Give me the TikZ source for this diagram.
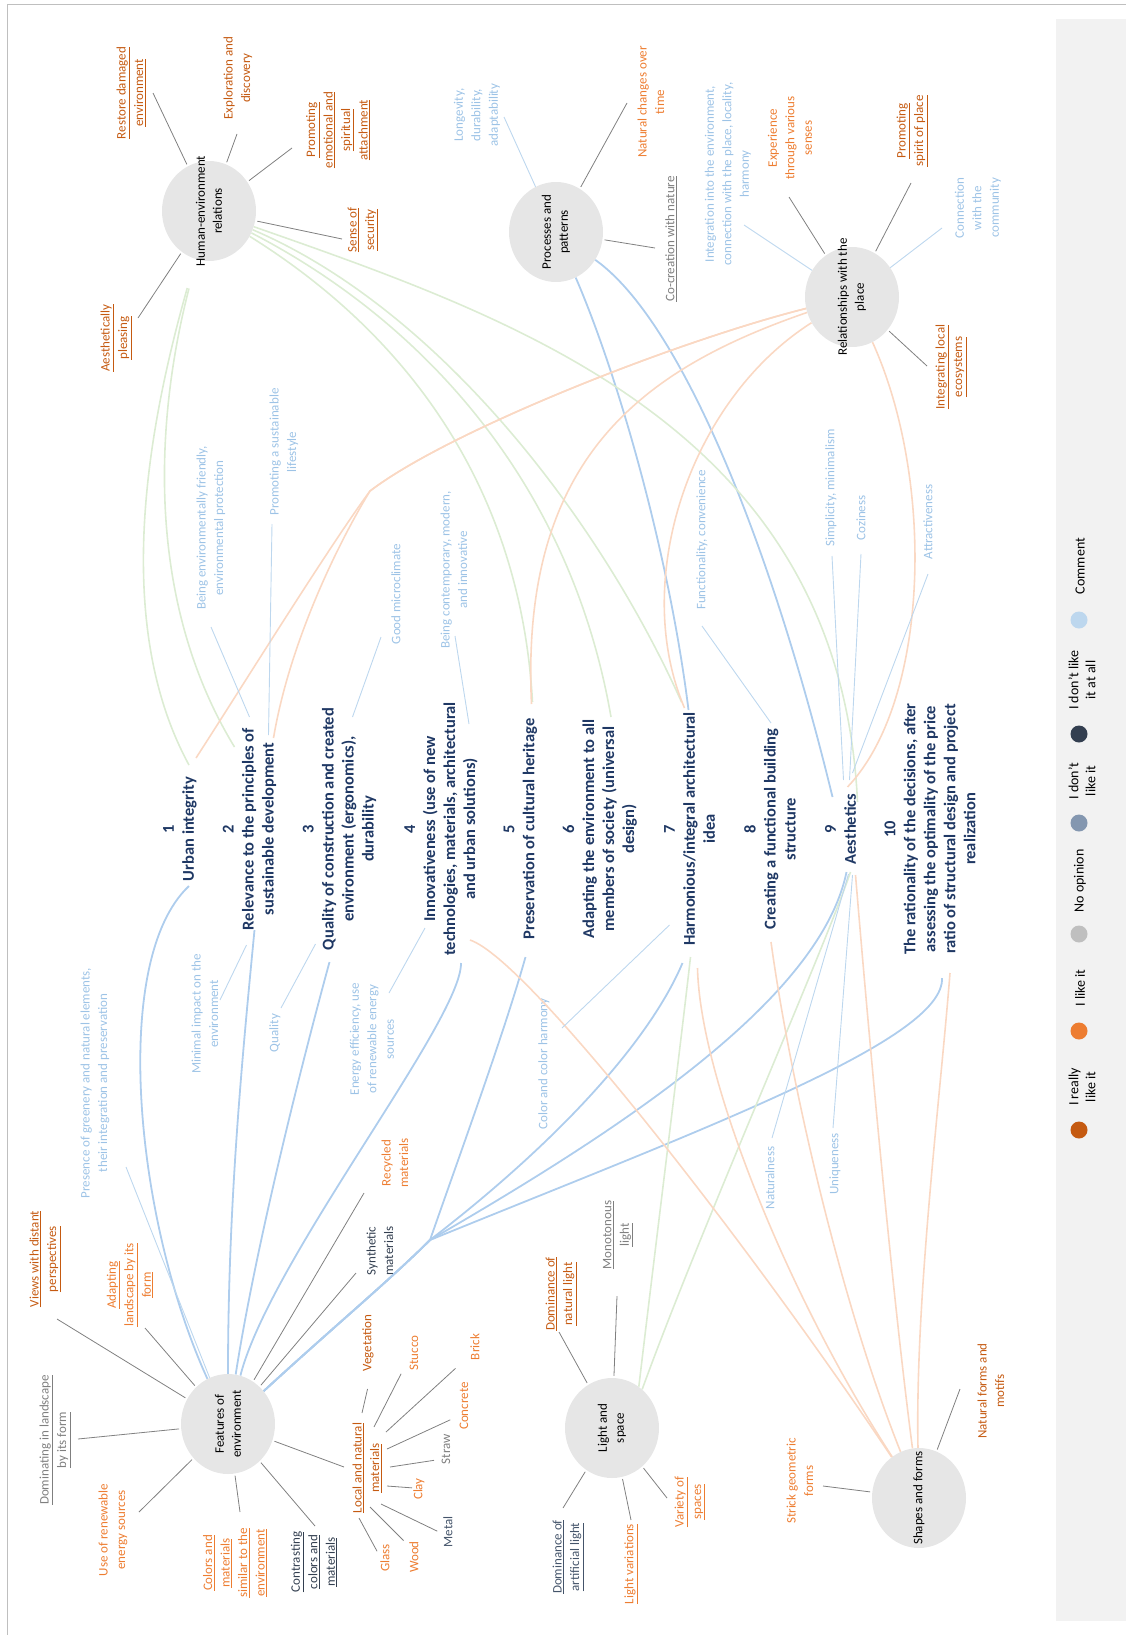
\documentclass[tikz,border=0pt]{standalone}
\usepackage{fontspec}
\setmainfont{Carlito}
\usetikzlibrary{calc,shapes.geometric}
\definecolor{dkorange}{HTML}{C55A11}
\definecolor{orng}{HTML}{ED7D31}
\definecolor{gtxt}{HTML}{7F7F7F}
\definecolor{navytxt}{HTML}{333F50}
\definecolor{slatetxt}{HTML}{44546A}
\definecolor{cmt}{HTML}{9DC3E6}
\definecolor{cmtline}{HTML}{BDD7EE}
\definecolor{critblue}{HTML}{1F3864}
\definecolor{hubgray}{HTML}{E6E6E6}
\definecolor{lblue}{HTML}{AECDED}
\definecolor{lgreen}{HTML}{DCECD3}
\definecolor{lpeach}{HTML}{FAD8C3}
\definecolor{spokegray}{HTML}{808080}
\definecolor{panelgray}{HTML}{F2F2F2}
\definecolor{framegray}{HTML}{BFBFBF}
\definecolor{lgbluegray}{HTML}{8497B0}
\definecolor{lgnavy}{HTML}{333F50}
\definecolor{lggray}{HTML}{BFBFBF}
\newcommand{\undl}[1]{\underline{#1}}
\newcommand{\dgLbl}{\fontsize{13}{17.5}\selectfont}
\newcommand{\dgHub}{\fontsize{13}{17}\selectfont}
\newcommand{\dgCrit}{\fontsize{16.5}{20}\selectfont\bfseries}
\newcommand{\dgLeg}{\fontsize{14}{17}\selectfont}
\begin{document}
\begin{tikzpicture}[x=1pt,y=-1pt,
  hub/.style={ellipse, fill=hubgray, minimum width=94pt, minimum height=100pt, inner sep=0pt},
  hubtxt/.style={rotate=90, align=center, font=\dgHub, text=black, inner sep=0pt},
  lbl/.style={rotate=90, align=center, inner sep=1pt, font=\dgLbl},
  crit/.style={rotate=90, align=center, inner sep=1pt, font=\dgCrit, text=critblue},
  spoke/.style={spokegray, line width=0.8pt, shorten <=2pt},
  cline/.style={cmtline, line width=0.9pt},
  bline/.style={lblue, line width=1.8pt},
  gline/.style={lgreen, line width=1.6pt},
  pline/.style={lpeach, line width=1.6pt},
  legdot/.style={circle, minimum size=17pt, inner sep=0pt},
  legtxt/.style={rotate=90, align=center, font=\dgLeg, inner sep=1pt}]
\useasboundingbox (0,0) rectangle (1126,1635);
% frame and legend panel
\draw[framegray, line width=0.8pt] (7,1635) -- (7,4) -- (1126,4);
\fill[panelgray] (1056,19) rectangle (1126,1621);

% hubs
\node[hub] (he) at (209,211) {};
\node[hubtxt] (het) at (he) {Human-environment\\relations};
\node[hub] (pp) at (556,232) {};
\node[hubtxt] (ppt) at (pp) {Processes and\\patterns};
\node[hub] (rp) at (852,297) {};
\node[hubtxt] (rpt) at (rp) {Relationships with the\\place};
\node[hub] (fe) at (228,1424) {};
\node[hubtxt] (fet) at (fe) {Features of\\environment};
\node[hub] (ls) at (612,1428) {};
\node[hubtxt] (lst) at (ls) {Light and\\space};
\node[hub] (sf) at (919,1498) {};
\node[hubtxt] (sft) at (sf) {Shapes and forms};

% criteria
\node[crit] (c1) at (180,829) {1\\Urban integrity};
\node[crit] (c2) at (249.5,829) {2\\Relevance to the principles of\\sustainable development};
\node[crit] (c3) at (339.5,829) {3\\Quality of construction and created\\environment (ergonomics),\\durability};
\node[crit] (c4) at (441,829) {4\\Innovativeness (use of new\\technologies, materials, architectural\\and urban solutions)};
\node[crit] (c5) at (520.5,829) {5\\Preservation of cultural heritage};
\node[crit] (c6) at (600,829) {6\\Adapting the environment to all\\members of society (universal\\design)};
\node[crit] (c7) at (689.5,829) {7\\Harmonious/integral architectural\\idea};
\node[crit] (c8) at (770,829) {8\\Creating a functional building\\structure};
\node[crit] (c9) at (840.5,829) {9\\Aesthetics};
\node[crit] (c10) at (930,829) {10\\The rationality of the decisions, after\\assessing the optimality of the price\\ratio of structural design and project\\realization};

% labels: human-environment relations
\node[lbl, text=dkorange] (he1) at (131,93) {\undl{Restore damaged}\\\undl{environment}};
\node[lbl, text=dkorange] (he2) at (238,78) {Exploration and\\discovery};
\node[lbl, text=dkorange] (he3) at (338,130) {\undl{Promoting}\\\undl{emotional and}\\\undl{spiritual}\\\undl{attachment}};
\node[lbl, text=dkorange] (he4) at (363,230) {\undl{Sense of}\\\undl{security}};
\node[lbl, text=dkorange] (he5) at (116,338) {\undl{Aesthetically}\\\undl{pleasing}};
% processes and patterns
\node[lbl, text=cmt] (pp1) at (477,115) {Longevity,\\durability,\\adaptability};
\node[lbl, text=orng] (pp2) at (651,102) {Natural changes over\\time};
\node[lbl, text=gtxt] (pp3) at (671,239) {\undl{Co-creation with nature}};
% relationships with the place
\node[lbl, text=cmt] (rp1) at (728,174) {Integration into the environment,\\connection with the place, locality,\\harmony};
\node[lbl, text=orng] (rp2) at (790,138) {Experience\\through various\\senses};
\node[lbl, text=dkorange] (rp3) at (912,131) {\undl{Promoting}\\\undl{spirit of place}};
\node[lbl, text=cmt] (rp4) at (978,208) {Connection\\with the\\community};
\node[lbl, text=dkorange] (rp5) at (951,367) {\undl{Integrating local}\\\undl{ecosystems}};
% features of environment
\node[lbl, text=dkorange] (fe1) at (45,1259) {\undl{Views with distant}\\\undl{perspectives}};
\node[lbl, text=orng] (fe2) at (130,1285) {\undl{Adapting}\\\undl{landscape by its}\\\undl{form}};
\node[lbl, text=gtxt] (fe3) at (55,1440) {\undl{Dominating in landscape}\\\undl{by its form}};
\node[lbl, text=orng] (fe4) at (113,1530) {Use of renewable\\energy sources};
\node[lbl, text=orng] (fe5) at (235,1563) {\undl{Colors and}\\\undl{materials}\\\undl{similar to the}\\\undl{environment}};
\node[lbl, text=navytxt] (fe6) at (314,1562) {\undl{Contrasting}\\\undl{colors and}\\\undl{materials}};
\node[lbl, text=dkorange] (fe7) at (367,1468) {\undl{Local and natural}\\\undl{materials}};
\node[lbl, text=navytxt] (fe8) at (380,1251) {Synthetic\\materials};
\node[lbl, text=orng] (fe9) at (395,1163) {Recycled\\materials};
\node[lbl, text=cmt] (fe10) at (95,1083) {Presence of greenery and natural elements,\\their integration and preservation};
% materials
\node[lbl, text=dkorange] (m1) at (368,1343) {Vegetation};
\node[lbl, text=orng] (m2) at (414,1353) {Stucco};
\node[lbl, text=orng] (m3) at (475,1347) {Brick};
\node[lbl, text=orng] (m4) at (464,1406) {Concrete};
\node[lbl, text=gtxt] (m5) at (446,1449) {Straw};
\node[lbl, text=orng] (m6) at (419,1489) {Clay};
\node[lbl, text=slatetxt] (m7) at (448,1532) {Metal};
\node[lbl, text=orng] (m8) at (414,1557) {Wood};
\node[lbl, text=orng] (m9) at (385,1558) {Glass};
% light and space
\node[lbl, text=dkorange] (ls1) at (561,1294) {\undl{Dominance of}\\\undl{natural light}};
\node[lbl, text=gtxt] (ls2) at (618,1235) {\undl{Monotonous}\\\undl{light}};
\node[lbl, text=slatetxt] (ls3) at (568,1557) {\undl{Dominance of}\\\undl{artificial light}};
\node[lbl, text=orng] (ls4) at (631,1564) {\undl{Light variations}};
\node[lbl, text=orng] (ls5) at (690,1502) {\undl{Variety of}\\\undl{spaces}};
% shapes and forms
\node[lbl, text=orng] (sf1) at (800,1481) {Strick geometric\\forms};
\node[lbl, text=dkorange] (sf2) at (991,1391) {Natural forms and\\motifs};
% comments near criteria
\node[lbl, text=cmt] (k1) at (211,528) {Being environmentally friendly,\\environmental protection};
\node[lbl, text=cmt] (k2) at (284,452) {Promoting a sustainable\\lifestyle};
\node[lbl, text=cmt] (k3) at (396,594) {Good microclimate};
\node[lbl, text=cmt] (k4) at (454,570) {Being contemporary, modern,\\and innovative};
\node[lbl, text=cmt] (k5) at (702,540) {Functionality, convenience};
\node[lbl, text=cmt] (k6) at (831,488) {Simplicity, minimalism};
\node[lbl, text=cmt] (k7) at (861,518) {Coziness};
\node[lbl, text=cmt] (k8) at (928,522) {Attractiveness};
\node[lbl, text=cmt] (k9) at (205,1014) {Minimal impact on the\\environment};
\node[lbl, text=cmt] (k10) at (275,1033) {Quality};
\node[lbl, text=cmt] (k11) at (372,1039) {Energy efficiency, use\\of renewable energy\\sources};
\node[lbl, text=cmt] (k12) at (544,1064) {Color and color harmony};
\node[lbl, text=cmt] (k13) at (770,1178) {Naturalness};
\node[lbl, text=cmt] (k14) at (835,1164) {Uniqueness};

% legend
\node[legdot, fill=dkorange] (d1) at (1079,1130) {};
\node[legtxt] (t1) at (1082,1087) {I really\\like it};
\node[legdot, fill=orng] (d2) at (1079,1031) {};
\node[legtxt] (t2) at (1080,988) {I like it};
\node[legdot, fill=lggray] (d3) at (1079,934) {};
\node[legtxt] (t3) at (1080,881) {No opinion};
\node[legdot, fill=lgbluegray] (d4) at (1079,823) {};
\node[legtxt] (t4) at (1082,781) {I don’t\\like it};
\node[legdot, fill=lgnavy] (d5) at (1079,734) {};
\node[legtxt] (t5) at (1082,680) {I don’t like\\it at all};
\node[legdot, fill=cmtline] (d6) at (1079,620) {};
\node[legtxt] (t6) at (1080,566) {Comment};

% ---- long connectors ----
\coordinate (J) at (430,1240);
\coordinate (M) at (370,491);
% blue from features of environment
\draw[bline] (fe) .. controls (135,1220) and (110,960) .. ($(c1)+(9,57)$);
\draw[bline] (fe) .. controls (228,1200) and (243,1050) .. ($(c2)+(5,101)$);
\draw[bline] (fe) .. controls (255,1250) and (300,1070) .. ($(c3)+(-10,133)$);
\draw[bline] (fe) .. controls (270,1260) and (462,1020) .. ($(c4)+(20,134)$);
\draw[bline] (fe) .. controls (330,1330) and (390,1280) .. (J) .. controls (465,1140) and (505,1030) .. ($(c5)+(5,128)$);
\draw[bline] (fe) .. controls (330,1330) and (390,1280) .. (J) .. controls (560,1140) and (650,1040) .. ($(c7)+(-7,134)$);
\draw[bline] (fe) .. controls (330,1330) and (390,1280) .. (J) .. controls (620,1130) and (820,1000) .. ($(c9)+(6,43)$);
\draw[bline] (fe) .. controls (330,1330) and (390,1280) .. (J) .. controls (700,1130) and (945,1040) .. ($(c10)+(12,149)$);
% blue from processes and patterns
\draw[bline] (pp) .. controls (620,380) and (670,560) .. ($(c7)+(-1,-119)$);
\draw[bline] (pp) .. controls (680,320) and (770,540) .. ($(c9)+(-8,-32)$);
% green from human-environment relations
\draw[gline, shorten <=30pt] (he) .. controls (150,420) and (110,620) .. ($(c1)+(9,-64)$);
\draw[gline, shorten <=30pt] (he) .. controls (155,420) and (145,600) .. ($(c2)+(-15,-82)$);
\draw[gline] (he) .. controls (400,330) and (520,480) .. ($(c5)+(12,-127)$);
\draw[gline] (he) .. controls (420,320) and (570,480) .. ($(c6)+(11,-112)$);
\draw[gline] (he) .. controls (440,310) and (600,520) .. ($(c7)+(-8,-127)$);
\draw[gline] (he) .. controls (520,320) and (840,430) .. ($(c9)+(17,-27)$);
% green from light and space
\draw[gline] (ls.57) .. controls (655,1250) and (680,1050) .. ($(c7)+(1,128)$);
\draw[gline] (ls.52) .. controls (700,1230) and (820,960) .. ($(c9)+(10,43)$);
% peach from relationships with the place
\draw[pline] (rp) .. controls (680,340) and (450,430) .. (M) .. controls (330,545) and (240,690) .. ($(c1)+(16,-71)$);
\draw[pline] (rp) .. controls (680,340) and (450,430) .. (M) .. controls (340,540) and (290,640) .. ($(c2)+(24,-91)$);
\draw[pline] (rp) .. controls (640,370) and (520,460) .. ($(c5)+(11,-125)$);
\draw[pline] (rp) .. controls (690,400) and (630,580) .. ($(c7)+(-5,-121)$);
\draw[pline] (rp) .. controls (935,480) and (930,700) .. ($(c9)+(7,-42)$);
% peach from shapes and forms
\draw[pline] (sf) .. controls (760,1260) and (530,960) .. ($(c4)+(29,111)$);
\draw[pline] (sf) .. controls (790,1300) and (700,1080) .. ($(c7)+(8,139)$);
\draw[pline] (sf) .. controls (840,1300) and (790,1080) .. ($(c8)+(1,113)$);
\draw[pline] (sf) .. controls (893,1300) and (870,1050) .. ($(c9)+(15,46)$);
\draw[pline] (sf) .. controls (915,1300) and (940,1100) .. ($(c10)+(20,144)$);

% ---- spokes ----
\draw[spoke] (he) -- ($(he1)+(22,0)$);
\draw[spoke] (he) -- ($(he2)+(-1,56)$);
\draw[spoke] (he) -- ($(he3)+(-46,18)$);
\draw[spoke] (he) -- ($(he4)+(-21,9)$);
\draw[spoke] (he) -- ($(he5)+(22,-20)$);
\draw[spoke] (pp) -- ($(pp2)+(-24,1)$);
\draw[spoke] (pp) -- ($(pp3)+(-16,9)$);
\draw[spoke] (rp) -- ($(rp2)+(-1,59)$);
\draw[spoke] (rp) -- ($(rp3)+(-1,52)$);
\draw[spoke] (rp) -- ($(rp5)+(-24,-1)$);
\draw[spoke] (fe) -- ($(fe1)+(12,60)$);
\draw[spoke] (fe) -- ($(fe2)+(15,43)$);
\draw[spoke] (fe) -- ($(fe3)+(23,-1)$);
\draw[spoke] (fe) -- ($(fe4)+(26,-18)$);
\draw[spoke] (fe) -- ($(fe5)+(5,-51)$);
\draw[spoke] (fe) -- ($(fe6)+(1,-36)$);
\draw[spoke] (fe) -- ($(fe7)+(-23,-1)$);
\draw[spoke] (fe) -- ($(fe8)+(-24,22)$);
\draw[spoke] (fe) -- ($(fe9)+(-31,30)$);
\draw[spoke] ($(m1)+(0,44)$) -- ($(fe7)+(-5,-55)$);
\draw[spoke] ($(m2)+(-12,19)$) -- ($(fe7)+(7,-41)$);
\draw[spoke] ($(m3)+(-18,20)$) -- ($(fe7)+(19,-36)$);
\draw[spoke] ($(m4)+(-12,13)$) -- ($(fe7)+(20,-19)$);
\draw[spoke] ($(m5)+(-10,11)$) -- ($(fe7)+(23,-1)$);
\draw[spoke] ($(m6)+(-5,-1)$) -- ($(fe7)+(20,18)$);
\draw[spoke] ($(m7)+(-9,0)$) -- ($(fe7)+(14,36)$);
\draw[spoke] ($(m8)+(-9,-15)$) -- ($(fe7)+(3,39)$);
\draw[spoke] ($(m9)+(-7,-5)$) -- ($(fe7)+(-8,50)$);
\draw[spoke] (ls) -- ($(ls1)+(-2,38)$);
\draw[spoke] (ls) -- ($(ls2)+(-1,61)$);
\draw[spoke] (ls) -- ($(ls3)+(-5,-49)$);
\draw[spoke] (ls) -- ($(ls4)+(0,-44)$);
\draw[spoke] (ls) -- ($(ls5)+(-23,-4)$);
\draw[spoke] (sf) -- ($(sf1)+(23,5)$);
\draw[spoke] (sf) -- ($(sf2)+(-31,-2)$);

% ---- comment lines ----
\draw[cline] (pp) -- ($(pp1)+(27,2)$);
\draw[cline] (rp) -- ($(rp1)+(16,51)$);
\draw[cline] (rp) -- ($(rp4)+(-36,20)$);
\draw[cline] (fe) -- ($(fe10)+(31,84)$);
\draw[cline] ($(k1)+(0,99)$) -- ($(c2)+(0,-112)$);
\draw[cline] ($(k2)+(-12,72)$) -- ($(c2)+(19,-94)$);
\draw[cline] ($(k3)+(-15,43)$) -- ($(c3)+(13,-112)$);
\draw[cline] ($(k4)+(1,66)$) -- ($(c4)+(28,-105)$);
\draw[cline] ($(k5)+(0,86)$) -- ($(c8)+(1,-106)$);
\draw[cline] ($(k6)+(1,68)$) -- ($(c9)+(3,-49)$);
\draw[cline] ($(k7)+(0,36)$) -- ($(c9)+(9,-49)$);
\draw[cline] ($(k8)+(0,52)$) -- ($(c9)+(12,-56)$);
\draw[cline] ($(k9)+(15,-14)$) -- ($(c2)+(-3,116)$);
\draw[cline] ($(k10)+(6,-25)$) -- ($(c3)+(-24,115)$);
\draw[cline] ($(k11)+(17,-46)$) -- ($(c4)+(-16,99)$);
\draw[cline] ($(k12)+(18,-36)$) -- ($(c7)+(-20,96)$);
\draw[cline] ($(k13)+(2,-40)$) -- ($(c9)+(8,45)$);
\draw[cline] ($(k14)+(-2,-36)$) -- ($(c9)+(12,46)$);
\end{tikzpicture}
\end{document}
